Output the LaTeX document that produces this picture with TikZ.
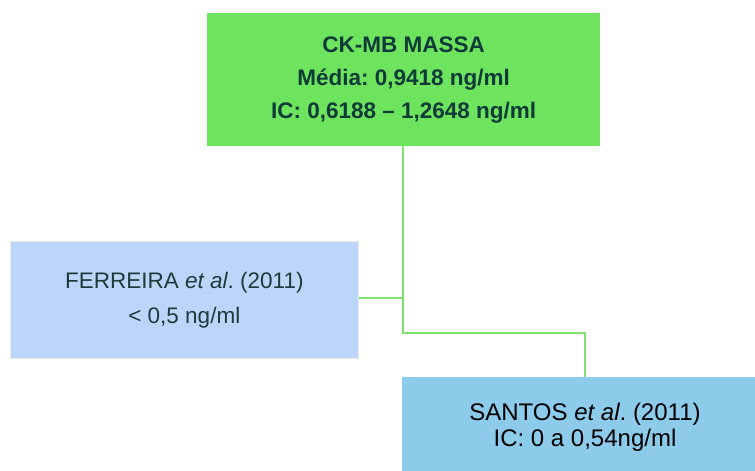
\documentclass[tikz,border=0pt]{standalone}
\usepackage{fontspec}
\setmainfont{Liberation Sans}
\frenchspacing
\definecolor{topgreen}{HTML}{6EE45E}
\definecolor{linegreen}{HTML}{7EE46E}
\definecolor{ferblue}{HTML}{BCD6FB}
\definecolor{santblue}{HTML}{8DCBEB}
\definecolor{darktxt}{HTML}{0E3A38}
\definecolor{greytxt}{HTML}{1E3A3A}
\tikzset{
  box/.style={draw=none, inner sep=0pt, anchor=north west},
  conn/.style={draw=linegreen, line width=1.8pt}
}
\begin{document}
\begin{tikzpicture}[x=1pt,y=-1pt]
\useasboundingbox (0,0) rectangle (755,471);
% top box
\node[box, fill=topgreen, minimum width=393pt, minimum height=133pt,
      text=darktxt, font=\bfseries\fontsize{22.5}{33}\selectfont, align=center]
  (top) at (207,13) {CK-MB MASSA\\Média: 0,9418 ng/ml\\IC: 0,6188 -- 1,2648 ng/ml};
% Ferreira
\node[box, fill=ferblue, draw=black!8, line width=0.6pt, minimum width=348pt, minimum height=117pt,
      text=greytxt, font=\fontsize{22.5}{35}\selectfont, align=center]
  (fer) at (10,241) {FERREIRA \textit{et al}. (2011)\\< 0,5 ng/ml};
% Santos
\fill[santblue] (402,377) rectangle (755,471);
\node[box, minimum width=353pt, minimum height=94pt] (santos) at (402,377) {};
\node[text=black, font=\fontsize{24}{26}\selectfont, align=center]
  (santostxt) at (585,427) {SANTOS \textit{et al}. (2011)\\IC: 0 a 0,54ng/ml};
% connectors
\coordinate (bend) at (403,333);
\coordinate (jf) at (403,298);
\draw[conn] (top.south -| bend) -- (bend) -| (santostxt.center |- santos.north);
\draw[conn] (fer.east |- jf) -- (jf);
\end{tikzpicture}
\end{document}
